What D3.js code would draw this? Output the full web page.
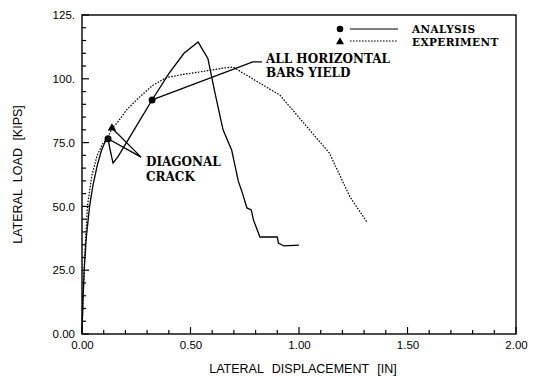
<!DOCTYPE html>
<html><head><meta charset="utf-8">
<script src="https://cdn.jsdelivr.net/npm/d3@7"></script>
<style>body{margin:0;background:#fff}svg{display:block}</style>
</head><body>
<svg id="c" width="533" height="377"></svg>
<script>
// ---- data ----
const analysisX = [0,0.004,0.01,0.02,0.035,0.05,0.07,0.09,0.105,0.12,0.13,0.143,0.166,0.267,0.323,0.40,0.47,0.535,0.58,0.613,0.65,0.69,0.72,0.74,0.76,0.78,0.79,0.82,0.90,0.905,0.93,1.0];
const analysisY = [0,12,25,38,50,58,66,72,75,76.5,72,67,69.5,83.8,91.7,102,110,114.4,108,94.4,80,72,60,55,49.4,48.6,44.7,38,38,35.6,34.5,34.8];
const experimentX = [0,0.004,0.012,0.025,0.045,0.07,0.095,0.12,0.138,0.16,0.207,0.267,0.327,0.39,0.47,0.544,0.65,0.696,0.912,0.97,1.14,1.235,1.313];
const experimentY = [0,12,30,50,62,70,74.5,77,80.7,82.5,88,93,97.5,100.5,101.8,102.7,104.2,104.6,93.6,87.8,70.9,53.7,43.9];
const xTicks = [0,0.5,1.0,1.5,2.0];
const xTickLabels = ["0.00","0.50","1.00","1.50","2.00"];
const yTicks = [0,25,50,75,100,125];
const yTickLabels = ["0.00","25.0","50.0","75.0","100.","125."];
const legendLabels = ["ANALYSIS","EXPERIMENT"];
const yieldPoint = [0.323, 91.7];      // analysis marker
const crackAnalysis = [0.12, 76.5];    // analysis marker
const crackExperiment = [0.138, 80.7]; // experiment marker

// ---- layout ----
const svg = d3.select("#c");
const L = 82, R = 516, T = 15, B = 334;
const x = d3.scaleLinear().domain([0,2]).range([L,R]);
const y = d3.scaleLinear().domain([0,125]).range([B,T]);
const sans = "'Liberation Sans', Arial, sans-serif";
const serif = "'DejaVu Serif', serif";

// frame
svg.append("rect").attr("x",L).attr("y",T).attr("width",R-L).attr("height",B-T)
  .attr("fill","none").attr("stroke","#000").attr("stroke-width",1.4);

// minor ticks
const xMinor = d3.range(0,2.001,0.1);
svg.append("g").selectAll("line").data(xMinor).join("line")
  .attr("x1",d=>x(d)).attr("x2",d=>x(d)).attr("y1",B)
  .attr("y2",(d,i)=> i%5===0 ? B-7 : B-4).attr("stroke","#000").attr("stroke-width",1.2);
const yMinor = d3.range(0,125.001,5);
svg.append("g").selectAll("line").data(yMinor).join("line")
  .attr("y1",d=>y(d)).attr("y2",d=>y(d)).attr("x1",L)
  .attr("x2",(d,i)=> i%5===0 ? L+7 : L+4).attr("stroke","#000").attr("stroke-width",1.2);

// axes labels via d3 axes (no lines, just text)
const xa = svg.append("g").attr("transform",`translate(0,${B})`)
  .call(d3.axisBottom(x).tickValues(xTicks).tickSize(0).tickPadding(7).tickFormat((d,i)=>xTickLabels[i]));
xa.select(".domain").remove();
xa.selectAll("text").attr("font-family",sans).attr("font-size",11.5).attr("fill","#000");
const ya = svg.append("g").attr("transform",`translate(${L},0)`)
  .call(d3.axisLeft(y).tickValues(yTicks).tickSize(0).tickPadding(7).tickFormat((d,i)=>yTickLabels[i]));
ya.select(".domain").remove();
ya.selectAll("text").attr("font-family",sans).attr("font-size",11.5).attr("fill","#000");

svg.append("text").attr("x",303).attr("y",373).attr("text-anchor","middle")
  .attr("font-family",sans).attr("font-size",12.5).attr("word-spacing",5).text("LATERAL DISPLACEMENT [IN]");
svg.append("text").attr("transform",`translate(22,${(T+B)/2}) rotate(-90)`).attr("text-anchor","middle")
  .attr("font-family",sans).attr("font-size",12.5).attr("word-spacing",4).text("LATERAL LOAD [KIPS]");

// curves
const line = d3.line().x(d=>x(d[0])).y(d=>y(d[1]));
const aData = analysisX.map((v,i)=>[v,analysisY[i]]);
const eData = experimentX.map((v,i)=>[v,experimentY[i]]);
svg.append("path").datum(aData).attr("d",line).attr("fill","none").attr("stroke","#000").attr("stroke-width",1.3);
svg.append("path").datum(eData).attr("d",line).attr("fill","none").attr("stroke","#000").attr("stroke-width",1.2).attr("stroke-dasharray","1.6,1.4");

// leader lines
const g = svg.append("g").attr("stroke","#000").attr("stroke-width",1.3).attr("fill","none");
const yieldEnd = [0.787, 106.6];
const yieldTail = [0.829, 106.6];
g.append("polyline").attr("points",[yieldPoint,yieldEnd,yieldTail].map(p=>`${x(p[0])},${y(p[1])}`).join(" "));
const crackApex = [0.272, 69.3];
g.append("polyline").attr("points",[crackAnalysis,crackApex,crackExperiment].map(p=>`${x(p[0])},${y(p[1])}`).join(" "));

// markers
const mk = svg.append("g").attr("fill","#000");
[yieldPoint, crackAnalysis].forEach(p=>mk.append("circle").attr("cx",x(p[0])).attr("cy",y(p[1])).attr("r",3.5));
const tri = d3.symbol().type(d3.symbolTriangle).size(30);
mk.append("path").attr("d",tri()).attr("transform",`translate(${x(crackExperiment[0])},${y(crackExperiment[1])})`);

// annotations
const ann = svg.append("g").attr("font-family",serif).attr("font-weight","bold").attr("font-size",12).attr("fill","#000");
ann.append("text").attr("x",266).attr("y",63).text("ALL HORIZONTAL");
ann.append("text").attr("x",266).attr("y",77).text("BARS YIELD");
ann.append("text").attr("x",146).attr("y",166).text("DIAGONAL");
ann.append("text").attr("x",146).attr("y",181).text("CRACK");

// legend
const lg = svg.append("g");
lg.append("circle").attr("cx",340).attr("cy",29).attr("r",3.3);
lg.append("path").attr("d",d3.symbol().type(d3.symbolTriangle).size(28)()).attr("transform","translate(340,42)");
lg.append("line").attr("x1",350).attr("x2",398).attr("y1",29).attr("y2",29).attr("stroke","#000").attr("stroke-width",1.2);
lg.append("line").attr("x1",350).attr("x2",398).attr("y1",41).attr("y2",41).attr("stroke","#000").attr("stroke-width",1.2).attr("stroke-dasharray","1.6,1.4");
lg.selectAll("text").data(legendLabels).join("text").attr("x",412).attr("y",(d,i)=>33+i*13)
  .attr("font-family",serif).attr("font-weight","bold").attr("font-size",10.5).attr("letter-spacing",0.4).text(d=>d);
</script>
</body></html>
